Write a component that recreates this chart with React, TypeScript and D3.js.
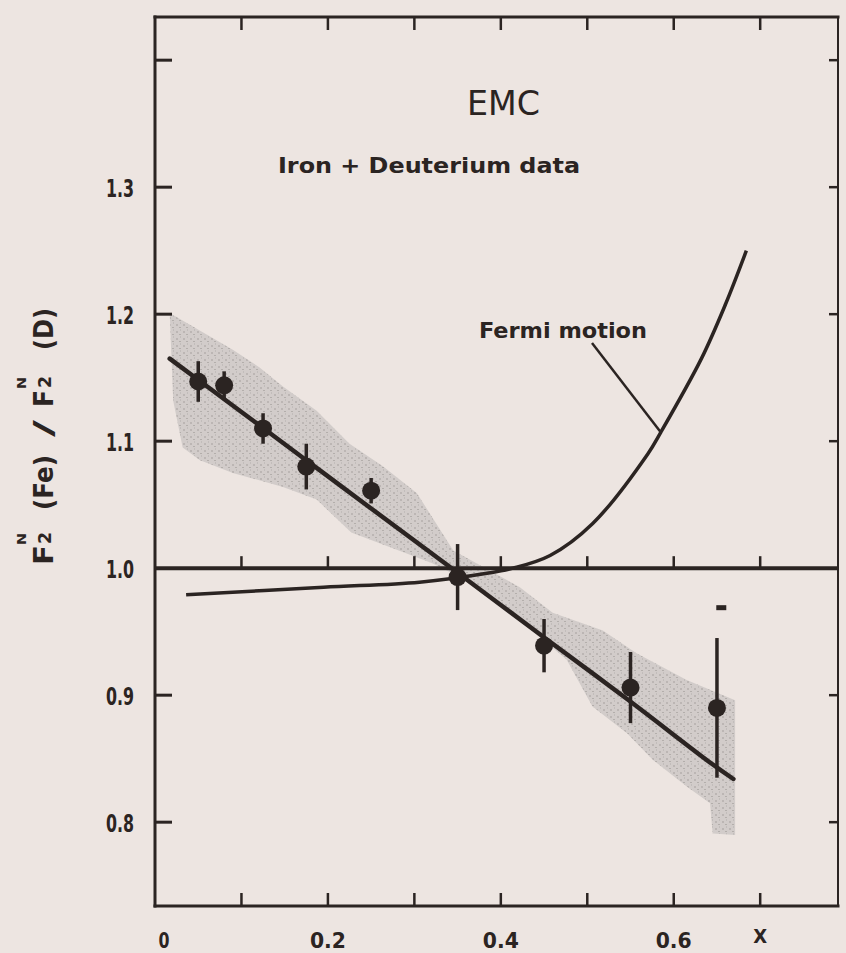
import React from "react";
import * as d3 from "d3";

// ---- data ----
const pointX = [0.05, 0.08, 0.125, 0.175, 0.25, 0.35, 0.45, 0.55, 0.65];
const pointY = [1.147, 1.144, 1.110, 1.080, 1.061, 0.993, 0.939, 0.906, 0.890];
const pointErr = [0.016, 0.011, 0.012, 0.018, 0.010, 0.026, 0.021, 0.028, 0.055];

const fitX = [0.017, 0.1, 0.173, 0.25, 0.345, 0.449, 0.546, 0.644, 0.669];
const fitY = [1.165, 1.123, 1.086, 1.047, 0.999, 0.946, 0.897, 0.846, 0.834];

const fermiX = [0.036, 0.195, 0.306, 0.384, 0.414, 0.457, 0.506, 0.570, 0.585, 0.632, 0.660, 0.684];
const fermiY = [0.979, 0.985, 0.989, 0.996, 1.0, 1.010, 1.035, 1.090, 1.107, 1.165, 1.208, 1.250];

const bandUpperX = [0.017, 0.09, 0.121, 0.148, 0.187, 0.225, 0.264, 0.303, 0.345, 0.422, 0.46, 0.518, 0.557, 0.615, 0.671, 0.671];
const bandUpperY = [1.201, 1.172, 1.158, 1.143, 1.124, 1.098, 1.080, 1.059, 1.014, 0.985, 0.965, 0.951, 0.933, 0.912, 0.896, 0.790];
const bandLowerX = [0.645, 0.642, 0.615, 0.576, 0.546, 0.506, 0.476, 0.376, 0.32, 0.227, 0.187, 0.148, 0.09, 0.052, 0.032, 0.021];
const bandLowerY = [0.791, 0.815, 0.828, 0.849, 0.870, 0.891, 0.928, 0.985, 1.004, 1.028, 1.054, 1.064, 1.075, 1.085, 1.095, 1.132];

const xMinorTicks = [0.1, 0.2, 0.3, 0.4, 0.5, 0.6, 0.7];
const xLabelValues = [0, 0.2, 0.4, 0.6];
const xLabelTexts = ["0", "0.2", "0.4", "0.6"];
const yTickValues = [0.8, 0.9, 1.1, 1.2, 1.3, 1.4];
const yLabelValues = [0.8, 0.9, 1.0, 1.1, 1.2, 1.3];
const yLabelTexts = ["0.8", "0.9", "1.0", "1.1", "1.2", "1.3"];

const strayX = [0.655];
const strayY = [0.9685];

const INK = "#2b2422";
const BG = "#ede5e1";
const FONT = "'DejaVu Sans Condensed','Liberation Sans Narrow',sans-serif";

export default function App() {
  const W = 846, H = 953;
  const x = d3.scaleLinear().domain([0, 0.79]).range([155, 838]);
  const y = d3.scaleLinear().domain([0.734, 1.434]).range([906, 17]);
  const left = x(0), right = x(0.79), top = y(1.434), bottom = y(0.734);

  const smooth = d3.line<[number, number]>().x(d => x(d[0])).y(d => y(d[1])).curve(d3.curveCatmullRom.alpha(0.5));
  const fitPts: [number, number][] = fitX.map((v, i) => [v, fitY[i]]);
  const fermiPts: [number, number][] = fermiX.map((v, i) => [v, fermiY[i]]);
  const bandPts: [number, number][] = [
    ...bandUpperX.map((v, i) => [v, bandUpperY[i]] as [number, number]),
    ...bandLowerX.map((v, i) => [v, bandLowerY[i]] as [number, number]),
  ];
  const bandPath = d3.line<[number, number]>().x(d => x(d[0])).y(d => y(d[1])).curve(d3.curveLinearClosed)(bandPts) || "";

  return (
    <svg width={W} height={H} style={{ position: "absolute", left: 0, top: 0, display: "block" }}>
      <defs>
        <pattern id="speck" width="7" height="7" patternUnits="userSpaceOnUse">
          <rect width="7" height="7" fill="#cdc8c6" />
          <rect x="1" y="2" width="2" height="2" fill="#b3aeac" />
          <rect x="4" y="5" width="2" height="1" fill="#a9a4a2" />
          <rect x="5" y="0" width="1" height="2" fill="#bbb6b4" />
        </pattern>
      </defs>
      <rect x={0} y={0} width={W} height={H} fill={BG} />

      {/* shaded systematic band */}
      <path d={bandPath} fill="url(#speck)" opacity={0.85} />

      {/* frame */}
      <g stroke={INK} strokeWidth={3} fill="none" strokeLinecap="square">
        <line x1={left} y1={top} x2={right} y2={top} />
        <line x1={left} y1={top} x2={left} y2={bottom} />
        <line x1={left} y1={bottom} x2={right} y2={bottom} />
        <line x1={right} y1={top} x2={right} y2={bottom} strokeWidth={2} />
      </g>

      {/* ticks */}
      <g stroke={INK} strokeWidth={2.5}>
        {xMinorTicks.map(v => (
          <g key={"xt" + v}>
            <line x1={x(v)} x2={x(v)} y1={top} y2={top + 13} />
            <line x1={x(v)} x2={x(v)} y1={bottom} y2={bottom - 13} />
            <line x1={x(v)} x2={x(v)} y1={y(1.0)} y2={y(1.0) - 12} />
          </g>
        ))}
        {yTickValues.map(v => (
          <g key={"yt" + v}>
            <line x1={left} x2={left + 17} y1={y(v)} y2={y(v)} strokeWidth={3} />
            <line x1={right} x2={right - 9} y1={y(v)} y2={y(v)} />
          </g>
        ))}
      </g>

      {/* unity line */}
      <line x1={left} x2={right} y1={y(1.0)} y2={y(1.0)} stroke={INK} strokeWidth={4} />

      {/* Fermi motion curve */}
      <path d={smooth(fermiPts) || ""} fill="none" stroke={INK} strokeWidth={3.5} />

      {/* fit line */}
      <path d={smooth(fitPts) || ""} fill="none" stroke={INK} strokeWidth={4.5} strokeLinecap="round" />

      {/* data points */}
      <g fill={INK} stroke={INK}>
        {pointX.map((v, i) => (
          <g key={"p" + i}>
            <line x1={x(v)} x2={x(v)} y1={y(pointY[i] + pointErr[i])} y2={y(pointY[i] - pointErr[i])} strokeWidth={3.5} />
            <circle cx={x(v)} cy={y(pointY[i])} r={9} stroke="none" />
          </g>
        ))}
        {strayX.map((v, i) => (
          <rect key={"s" + i} x={x(v) - 5} y={y(strayY[i]) - 3} width={10} height={5} stroke="none" />
        ))}
      </g>

      {/* Fermi motion label + leader */}
      <line x1={592} y1={343} x2={x(0.585)} y2={y(1.107)} stroke={INK} strokeWidth={2.5} />
      <text x={479} y={338} fontFamily={FONT} fontWeight="bold" fontSize={22} fill={INK}
        textLength={168} lengthAdjust="spacingAndGlyphs">Fermi motion</text>

      {/* titles */}
      <text x={467} y={115} fontFamily={FONT} fontSize={34} fill={INK}
        textLength={73} lengthAdjust="spacingAndGlyphs">EMC</text>
      <text x={278} y={173} fontFamily={FONT} fontWeight="bold" fontSize={21} fill={INK}
        textLength={302} lengthAdjust="spacingAndGlyphs">Iron + Deuterium data</text>

      {/* y tick labels */}
      {yLabelValues.map((v, i) => (
        <text key={"yl" + v} x={120} y={y(v) + 10} textAnchor="middle" fontFamily={FONT}
          fontWeight="bold" fontSize={25} fill={INK} textLength={28} lengthAdjust="spacingAndGlyphs">
          {yLabelTexts[i]}
        </text>
      ))}

      {/* x tick labels */}
      {xLabelValues.map((v, i) => (
        <text key={"xl" + v} x={x(v) + (v === 0 ? 9 : 0)} y={948} textAnchor="middle" fontFamily={FONT}
          fontWeight="bold" fontSize={22} fill={INK}
          textLength={v === 0 ? 11 : 36} lengthAdjust="spacingAndGlyphs">
          {xLabelTexts[i]}
        </text>
      ))}
      <text x={x(0.7)} y={943} textAnchor="middle" fontFamily={FONT} fontWeight="bold" fontSize={20} fill={INK}>X</text>

      {/* y axis title */}
      <g transform="translate(48,437) rotate(-90)" fontFamily={FONT} fill={INK} fontWeight="bold">
        <text x={-128} y={5} fontSize={26} textLength={20} lengthAdjust="spacingAndGlyphs">F</text>
        <text x={-108} y={-22} fontSize={13} textLength={12} lengthAdjust="spacingAndGlyphs">N</text>
        <text x={-107} y={3} fontSize={17} textLength={12} lengthAdjust="spacingAndGlyphs">2</text>
        <text x={-73} y={5} fontSize={26} textLength={55} lengthAdjust="spacingAndGlyphs">(Fe)</text>
        <text x={0} y={5} fontSize={26} textLength={17} lengthAdjust="spacingAndGlyphs">/</text>
        <text x={30} y={5} fontSize={26} textLength={17} lengthAdjust="spacingAndGlyphs">F</text>
        <text x={48} y={-22} fontSize={13} textLength={12} lengthAdjust="spacingAndGlyphs">N</text>
        <text x={49} y={3} fontSize={17} textLength={12} lengthAdjust="spacingAndGlyphs">2</text>
        <text x={87} y={5} fontSize={26} textLength={42} lengthAdjust="spacingAndGlyphs">(D)</text>
      </g>
    </svg>
  );
}
